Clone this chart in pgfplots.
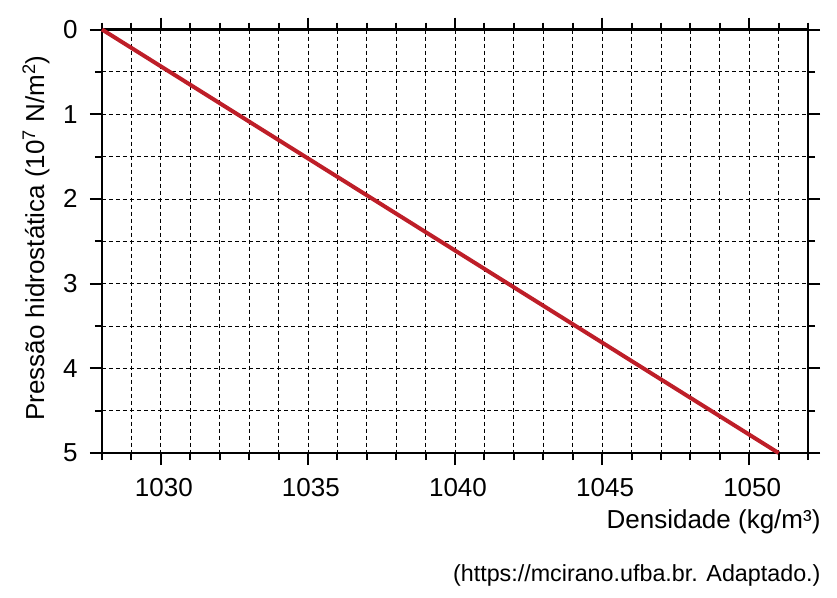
\documentclass[border=0pt]{standalone}
\usepackage{fontspec}
\setmainfont{Liberation Sans}
\usepackage{pgfplots}
\pgfplotsset{compat=1.18}
\definecolor{linered}{RGB}{190,30,40}
\begin{document}
\begin{tikzpicture}
\begin{axis}[
  scale only axis,
  width=706pt, height=423.5pt,
  at={(0pt,0pt)}, anchor=south west,
  xmin=1028, xmax=1052,
  ymin=0, ymax=5,
  y dir=reverse,
  xtick={1030,1035,1040,1045,1050},
  minor xtick={1028,1029,1031,1032,1033,1034,1036,1037,1038,1039,1041,1042,1043,1044,1046,1047,1048,1049,1051,1052},
  ytick={0,1,2,3,4,5},
  minor ytick={0.5,1.5,2.5,3.5,4.5},
  xticklabel style={yshift=-10pt, xshift=3pt},
  yticklabel style={xshift=-9pt},
  grid=both,
  major grid style={black, line width=0.8pt, dash pattern=on 4pt off 3pt},
  minor grid style={black, line width=0.8pt, dash pattern=on 4pt off 3pt},
  tick align=outside,
  major tick length=12pt,
  minor tick length=7pt,
  every tick/.style={black, line width=2pt},
  axis line style={black, line width=2.5pt},
  tick label style={font=\fontsize{26}{30}\selectfont},
  /pgf/number format/assume math mode=true,
  /pgf/number format/1000 sep={},
  xticklabel={\pgfmathprintnumber[fixed,precision=0]{\tick}},
  clip=false,
]
\addplot[linered, line width=4pt] coordinates {(1028,0) (1051,5)};
\end{axis}
\node[anchor=east, font=\fontsize{26}{30}\selectfont] at (722pt,-69pt) {Densidade (kg/m³)};
\node[anchor=east, font=\fontsize{23.3}{27}\selectfont] at (722pt,-122pt) {(https://mcirano.ufba.br. Adaptado.)};
\node[rotate=90, font=\fontsize{26}{30}\selectfont] at (-66pt,215pt) {Pressão hidrostática (10\textsuperscript{7} N/m\textsuperscript{2})};
\useasboundingbox (-102pt,-144pt) rectangle (735pt,453pt);
\end{tikzpicture}
\end{document}
